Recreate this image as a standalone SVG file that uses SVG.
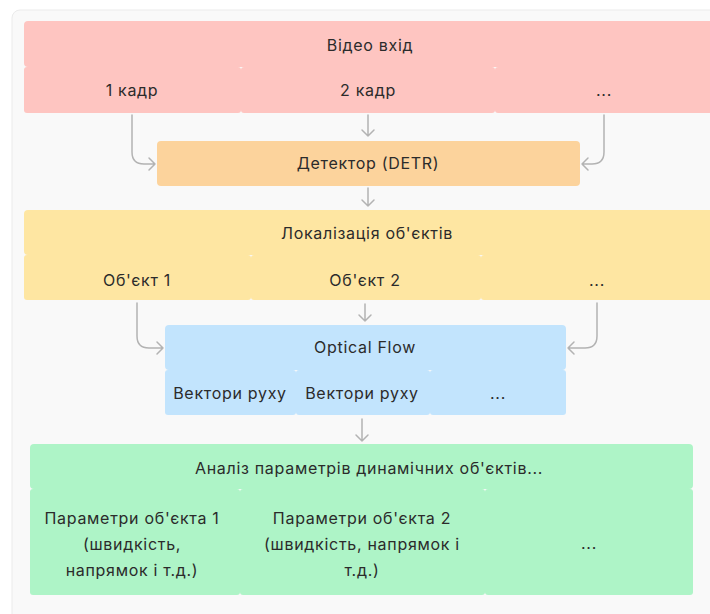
<svg xmlns="http://www.w3.org/2000/svg" width="710" height="614" viewBox="0 0 710 614">
<style>
text{font-family:Inter,"Noto Sans","DejaVu Sans",sans-serif;font-size:16px;letter-spacing:0.7px;fill:#2b2b2b;text-anchor:middle}
.red{fill:#fec5c1}
.org{fill:#fcd39c}
.yel{fill:#fee6a2}
.blu{fill:#c2e4fd}
.grn{fill:#aef4c7}
.ln{fill:none;stroke:#b3b3b3;stroke-width:1.5;stroke-linecap:round;stroke-linejoin:round}
</style>
<rect x="0" y="0" width="710" height="614" fill="#ffffff"/>
<rect x="12" y="10" width="730" height="630" rx="8" fill="#f9f9f9" stroke="#ebebeb" stroke-width="1"/>
<g id="video">
<rect class="red" x="24" y="21" width="692" height="46" rx="4"/>
<text x="370" y="50.5">Відео вхід</text>
</g>
<g id="frame1">
<rect class="red" x="24" y="67" width="217" height="46" rx="3"/>
<text x="132" y="96">1 кадр</text>
</g>
<g id="frame2">
<rect class="red" x="241" y="67" width="254" height="46" rx="3"/>
<text x="368" y="96">2 кадр</text>
</g>
<g id="frame3">
<rect class="red" x="495" y="67" width="221" height="46" rx="3"/>
<text x="604" y="96">...</text>
</g>
<g id="detector">
<rect class="org" x="157" y="141" width="423" height="45" rx="4"/>
<text x="368" y="169">Детектор (DETR)</text>
</g>
<g id="localization">
<rect class="yel" x="24" y="210" width="690" height="45" rx="4"/>
<text x="367" y="239">Локалізація об'єктів</text>
</g>
<g id="obj1">
<rect class="yel" x="24" y="255" width="227" height="45" rx="3"/>
<text x="137" y="285.5">Об'єкт 1</text>
</g>
<g id="obj2">
<rect class="yel" x="251" y="255" width="230" height="45" rx="3"/>
<text x="365" y="285.5">Об'єкт 2</text>
</g>
<g id="obj3">
<rect class="yel" x="481" y="255" width="233" height="45" rx="3"/>
<text x="597" y="285.5">...</text>
</g>
<g id="optflow">
<rect class="blu" x="165" y="325" width="401" height="45" rx="4"/>
<text x="365" y="353">Optical Flow</text>
</g>
<g id="vec1">
<rect class="blu" x="165" y="370" width="131" height="45" rx="3"/>
<text x="230" y="399">Вектори руху</text>
</g>
<g id="vec2">
<rect class="blu" x="296" y="370" width="134" height="45" rx="3"/>
<text x="362" y="399">Вектори руху</text>
</g>
<g id="vec3">
<rect class="blu" x="430" y="370" width="136" height="45" rx="3"/>
<text x="498" y="399">...</text>
</g>
<g id="analysis">
<rect class="grn" x="30" y="444" width="663" height="45" rx="4"/>
<text x="369" y="474">Аналіз параметрів динамічних об'єктів...</text>
</g>
<g id="param1">
<rect class="grn" x="30" y="489" width="210" height="106" rx="3"/>
<text x="132" y="524">Параметри об'єкта 1</text>
<text x="132" y="550">(швидкість,</text>
<text x="132" y="576">напрямок і т.д.)</text>
</g>
<g id="param2">
<rect class="grn" x="240" y="489" width="245" height="106" rx="3"/>
<text x="362" y="524">Параметри об'єкта 2</text>
<text x="362" y="550">(швидкість, напрямок і</text>
<text x="362" y="576">т.д.)</text>
</g>
<g id="param3">
<rect class="grn" x="485" y="489" width="208" height="106" rx="3"/>
<text x="589" y="549">...</text>
</g>
<g id="connectors">
<path class="ln" d="M132,115 V152 Q132,164 144,164 H155 M149,158 L155,164 L149,170"/>
<path class="ln" d="M368,115 V136 M362,130 L368,136 L374,130"/>
<path class="ln" d="M604,115 V152 Q604,164 592,164 H582 M588,158 L582,164 L588,170"/>
<path class="ln" d="M368,188 V206 M362,200 L368,206 L374,200"/>
<path class="ln" d="M137,303 V336 Q137,348 149,348 H163 M157,342 L163,348 L157,354"/>
<path class="ln" d="M365,304 V321 M359,315 L365,321 L371,315"/>
<path class="ln" d="M597,303 V336 Q597,348 585,348 H568 M574,342 L568,348 L574,354"/>
<path class="ln" d="M362,419 V441 M356,435 L362,441 L368,435"/>
</g>
</svg>
